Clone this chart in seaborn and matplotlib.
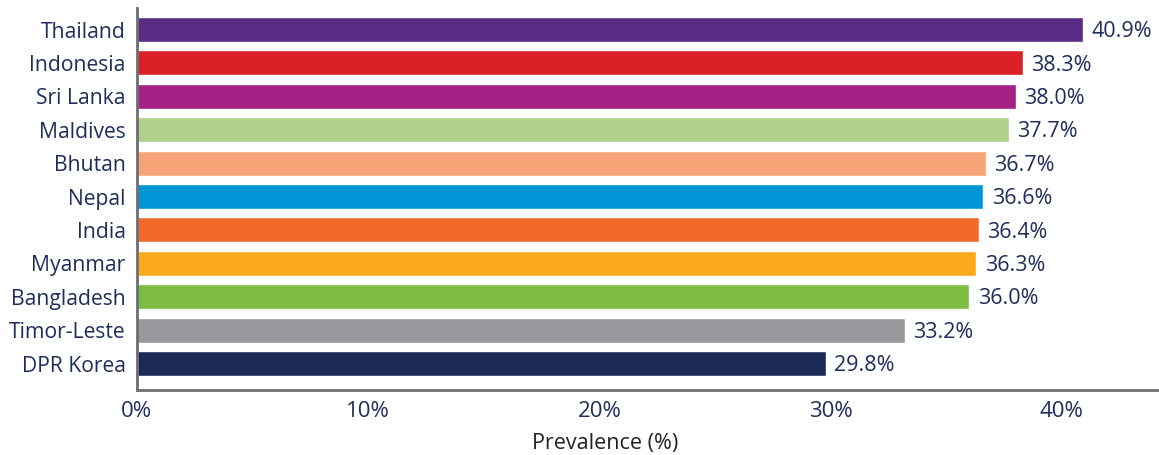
import matplotlib
matplotlib.use("Agg")
import matplotlib.pyplot as plt
import seaborn as sns
import pandas as pd

countries = ["Thailand", "Indonesia", "Sri Lanka", "Maldives", "Bhutan", "Nepal",
             "India", "Myanmar", "Bangladesh", "Timor-Leste", "DPR Korea"]
prevalence = [40.9, 38.3, 38.0, 37.7, 36.7, 36.6, 36.4, 36.3, 36.0, 33.2, 29.8]
colors = ["#5b2c83", "#da2128", "#a52187", "#afd18a", "#f6a477", "#0096d6",
          "#f1692b", "#fbaa1e", "#7dbd43", "#97989b", "#1b2a55"]
x_ticks = [0, 10, 20, 30, 40]
x_tick_labels = ["0%", "10%", "20%", "30%", "40%"]

navy = "#1f2d5c"
spine_gray = "#6d6e71"

sns.set_style("white")
plt.rcParams["font.family"] = ["Open Sans", "DejaVu Sans"]

df = pd.DataFrame({"country": countries, "prevalence": prevalence})

fig = plt.figure(figsize=(11.59, 4.55), dpi=100)
ax = fig.add_axes([0.118, 0.143, 0.882, 0.839])

sns.barplot(data=df, x="prevalence", y="country", hue="country",
            palette=colors, orient="h", width=0.75, legend=False,
            saturation=1, ax=ax)

# value labels just past the end of each bar
for patch, val in zip(ax.patches, prevalence):
    y = patch.get_y() + patch.get_height() / 2
    ax.annotate(f"{val:.1f}%", xy=(patch.get_width(), y), xytext=(6, -1.5),
                textcoords="offset points", va="center", ha="left",
                fontsize=15.5, color=navy)

ax.set_xlim(0, 44.2)
ax.set_ylim(10.79, -0.64)
ax.set_xticks(x_ticks)
ax.set_xticklabels(x_tick_labels)
ax.tick_params(axis="x", direction="in", length=6, width=1, color="#333333",
               labelsize=16, labelcolor=navy, pad=8)
ax.tick_params(axis="y", length=0, labelsize=15.2, labelcolor=navy, pad=8)
ax.set_xlabel("Prevalence (%)", fontsize=15.5, color="#222222")
ax.xaxis.set_label_coords(0.458, -0.112)
ax.set_ylabel("")

for side in ["top", "right"]:
    ax.spines[side].set_visible(False)
for side in ["left", "bottom"]:
    ax.spines[side].set_color(spine_gray)
    ax.spines[side].set_linewidth(2)

fig.savefig("out.png", dpi=100)
